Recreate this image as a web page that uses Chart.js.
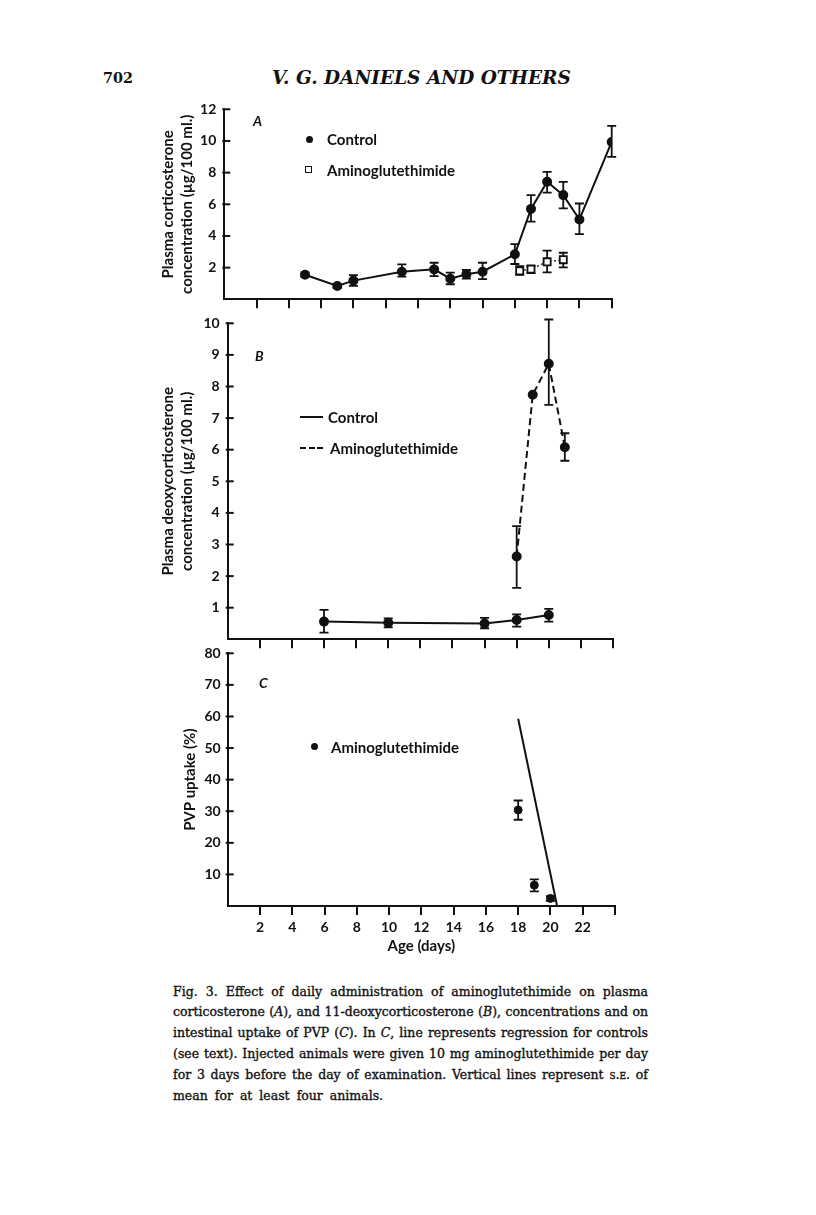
<!DOCTYPE html>
<html><head><meta charset="utf-8">
<script src="https://cdn.jsdelivr.net/npm/chart.js@4.4.0/dist/chart.umd.min.js"></script>
<style>
html,body{margin:0;padding:0;background:#fff;}
body{width:816px;height:1215px;position:relative;overflow:hidden;font-family:Lato,"Open Sans",sans-serif;color:#111;}
canvas{position:absolute;}
.t{position:absolute;white-space:nowrap;line-height:20px;height:20px;}
.lg{font-family:Lato,sans-serif;font-weight:bold;font-size:15px;}
.pl{font-family:Lato,sans-serif;font-weight:bold;font-style:italic;font-size:14px;}
.dot{position:absolute;width:7px;height:7px;border-radius:50%;background:#111;}
.sq{position:absolute;width:5px;height:5px;border:1.8px solid #111;background:#fff;}
.ln{position:absolute;height:0;border-top:2px solid #111;}
.ser{font-family:"DejaVu Serif",serif;}
.cap{position:absolute;left:173px;width:475px;font-family:"DejaVu Serif",serif;font-size:13px;white-space:nowrap;text-align:justify;text-align-last:justify;height:20.8px;line-height:20.8px;color:#111;-webkit-text-stroke:0.35px #111;}
.sc{font-variant:small-caps;}
</style></head><body>

<div id="hnum" class="t ser" style="left:103px;top:67px;font-weight:bold;font-size:19px;line-height:22px;height:22px;">702</div>
<div id="htitle" class="t ser" style="left:272px;top:67px;font-style:italic;font-weight:bold;font-size:19px;line-height:22px;height:22px;">V. G. DANIELS AND OTHERS</div>

<canvas id="cA" width="500" height="230" style="left:140px;top:89px;"></canvas>
<canvas id="cB" width="500" height="356" style="left:140px;top:303px;"></canvas>
<canvas id="cC" width="500" height="330" style="left:140px;top:633px;"></canvas>

<!-- panel A legend -->
<div class="t pl" style="left:253px;top:111px;">A</div>
<div class="dot" style="left:306px;top:136px;"></div>
<div class="t lg" style="left:327px;top:129px;">Control</div>
<div class="sq" style="left:305px;top:166px;"></div>
<div class="t lg" style="left:327px;top:160px;">Aminoglutethimide</div>

<!-- panel B legend -->
<div class="t pl" style="left:255px;top:346px;">B</div>
<div class="ln" style="left:300px;top:416px;width:23px;"></div>
<div class="t lg" style="left:328px;top:407px;">Control</div>
<div class="ln" style="left:300px;top:447px;width:6px;"></div>
<div class="ln" style="left:308.5px;top:447px;width:6px;"></div>
<div class="ln" style="left:317px;top:447px;width:6px;"></div>
<div class="t lg" style="left:330px;top:438px;">Aminoglutethimide</div>

<!-- panel C legend -->
<div class="t pl" style="left:259px;top:673px;">C</div>
<div class="dot" style="left:310.5px;top:743px;"></div>
<div class="t lg" style="left:331px;top:737px;">Aminoglutethimide</div>

<div id="caption">
<div class="cap" style="top:981.6px;">Fig. 3. Effect of daily administration of aminoglutethimide on plasma</div>
<div class="cap" style="top:1002.4px;">corticosterone (<i>A</i>), and 11-deoxycorticosterone (<i>B</i>), concentrations and on</div>
<div class="cap" style="top:1023.2px;">intestinal uptake of PVP (<i>C</i>). In <i>C</i>, line represents regression for controls</div>
<div class="cap" style="top:1044px;">(see text). Injected animals were given 10 mg aminoglutethimide per day</div>
<div class="cap" style="top:1064.8px;">for 3 days before the day of examination. Vertical lines represent <span class="sc">s.e.</span> of</div>
<div class="cap" id="capLast" style="top:1085.6px;text-align:left;text-align-last:left;">mean for at least four animals.</div>
</div>

<script>
// ---------- data ----------
const xTicks = [2,4,6,8,10,12,14,16,18,20,22,24];
const xTickLabels = ['2','4','6','8','10','12','14','16','18','20','22',''];

// Panel A: plasma corticosterone (µg/100 ml)
const yTicksA = [2,4,6,8,10,12];
const yTickLabelsA = ['2','4','6','8','10','12'];
const daysAControl = [5,7,8,11,13,14,15,16,18,19,20,21,22,24];
const corticoControl = [1.55,0.84,1.18,1.74,1.89,1.30,1.58,1.74,2.84,5.71,7.42,6.58,5.04,9.94];
const corticoControlLo = [1.42,0.72,0.85,1.43,1.47,0.95,1.30,1.28,2.23,4.90,6.74,5.74,4.12,8.99];
const corticoControlHi = [1.70,0.98,1.53,2.20,2.31,1.68,1.85,2.31,3.49,6.58,8.05,7.42,6.05,10.95];
const daysAAmino = [18.3,19,20,21];
const corticoAmino = [1.80,1.91,2.37,2.50];
const corticoAminoLo = [1.55,1.65,1.70,2.02];
const corticoAminoHi = [2.10,2.10,3.07,2.94];

// Panel B: plasma deoxycorticosterone (µg/100 ml)
const yTicksB = [1,2,3,4,5,6,7,8,9,10];
const yTickLabelsB = ['1','2','3','4','5','6','7','8','9','10'];
const daysBControl = [6,10,16,18,20];
const docControl = [0.56,0.52,0.50,0.61,0.77];
const docControlLo = [0.21,0.38,0.35,0.40,0.56];
const docControlHi = [0.93,0.66,0.68,0.79,0.96];
const daysBAmino = [18,19,20,21];
const docAmino = [2.62,7.74,8.72,6.08];
const docAminoLo = [1.63,null,7.42,5.65];
const docAminoHi = [3.58,null,10.12,6.52];

// Panel C: PVP uptake (%)
const yTicksC = [10,20,30,40,50,60,70,80];
const yTickLabelsC = ['10','20','30','40','50','60','70','80'];
const daysCAmino = [18,19,20];
const pvpAmino = [30.4,6.6,2.4];
const pvpAminoLo = [27.3,4.6,1.6];
const pvpAminoHi = [33.4,8.4,3.1];
const regDays = [18,20.4];
const regPvp = [59.3,0.3];

// ---------- helpers ----------
const ink = '#111';
const pts = (xs, ys) => xs.map((x,i)=>({x:x,y:ys[i]}));
const tickFont = {family:'Lato', weight:'bold', size:14};
const titleFont = {family:'Lato', weight:'bold', size:15, lineHeight:1.25};

const errPlugin = {
  id:'errbars',
  beforeDatasetsDraw(chart){
    const ctx = chart.ctx, xs = chart.scales.x, ys = chart.scales.y;
    chart.data.datasets.forEach(ds=>{
      if(!ds.errLo) return;
      ctx.save(); ctx.strokeStyle = ink; ctx.lineWidth = 1.8;
      ds.data.forEach((p,i)=>{
        const lo = ds.errLo[i], hi = ds.errHi[i];
        if(lo==null || hi==null) return;
        const x = xs.getPixelForValue(p.x), y1 = ys.getPixelForValue(lo), y2 = ys.getPixelForValue(hi);
        ctx.beginPath();
        ctx.moveTo(x,y1); ctx.lineTo(x,y2);
        ctx.moveTo(x-4.5,y1); ctx.lineTo(x+4.5,y1);
        ctx.moveTo(x-4.5,y2); ctx.lineTo(x+4.5,y2);
        ctx.stroke();
      });
      ctx.restore();
    });
  },
  afterDraw(chart){
    const ctx = chart.ctx, ys = chart.scales.y, left = chart.chartArea.left;
    ctx.save(); ctx.strokeStyle = ink; ctx.lineWidth = 2;
    ys.ticks.forEach(t=>{
      const y = ys.getPixelForValue(t.value);
      ctx.beginPath(); ctx.moveTo(left-2,y); ctx.lineTo(left+6,y); ctx.stroke();
    });
    ctx.restore();
  }
};

function buildChart(id, o){
  return new Chart(document.getElementById(id), {
    type:'line',
    data:{datasets:o.datasets},
    options:{
      responsive:false, animation:false, devicePixelRatio:1,
      layout:{padding:{left:0,right:o.padRight,top:o.padTop,bottom:0}},
      plugins:{legend:{display:false}, tooltip:{enabled:false}},
      scales:{
        x:{
          type:'linear', min:0, max:24,
          afterBuildTicks:s=>{s.ticks = xTicks.map(v=>({value:v}));},
          afterFit:s=>{s.height = o.xHeight;},
          ticks:{display:o.showX, autoSkip:false, maxRotation:0, padding:4, font:tickFont, color:ink,
                 callback:(v)=>{const i = xTicks.indexOf(v); return i>=0 ? xTickLabels[i] : '';}},
          grid:{display:true, drawOnChartArea:false, drawTicks:true, tickLength:9, lineWidth:2, color:ink},
          border:{display:true, width:2, color:ink},
          title: o.xTitle ? {display:true, text:o.xTitle, font:titleFont, color:ink, padding:{top:0,bottom:7}} : {display:false}
        },
        y:{
          type:'linear', min:o.yMin, max:o.yMax,
          afterBuildTicks:s=>{s.ticks = o.yTicks.map(v=>({value:v}));},
          afterFit:s=>{s.width = o.yWidth;},
          ticks:{padding:o.yPad, font:tickFont, color:ink,
                 callback:(v)=>{const i = o.yTicks.indexOf(v); return i>=0 ? o.yLabels[i] : '';}},
          grid:{display:true, drawOnChartArea:false, drawTicks:false},
          border:{display:true, width:2, color:ink},
          title:{display:true, text:o.yTitle, font:titleFont, color:ink, padding:{top:o.yTitlePad, bottom:0}}
        }
      }
    },
    plugins:[errPlugin]
  });
}

// Panel A
buildChart('cA', {
  yMin:0, yMax:12, yTicks:yTicksA, yLabels:yTickLabelsA, yWidth:84.3, yPad:8,
  padTop:20.3, padRight:28.3, xHeight:19.7, showX:false,
  yTitle:['Plasma corticosterone','concentration (\u00b5g/100 ml.)'], yTitlePad:18.6,
  datasets:[
    {data:pts(daysAControl,corticoControl), errLo:corticoControlLo, errHi:corticoControlHi,
     borderColor:ink, borderWidth:2, pointRadius:4, pointBackgroundColor:ink, pointBorderColor:ink, tension:0},
    {data:pts(daysAAmino,corticoAmino), errLo:corticoAminoLo, errHi:corticoAminoHi,
     borderColor:ink, borderWidth:1.3, borderDash:[2,2.5], pointStyle:'rect', pointRadius:5,
     pointBackgroundColor:'#fff', pointBorderColor:ink, pointBorderWidth:1.8, tension:0}
  ]
});

// Panel B
buildChart('cB', {
  yMin:0, yMax:10, yTicks:yTicksB, yLabels:yTickLabelsB, yWidth:87.7, yPad:8,
  padTop:20.3, padRight:27, xHeight:19.7, showX:false,
  yTitle:['Plasma deoxycorticosterone','concentration (\u00b5g/100 ml.)'], yTitlePad:18.6,
  datasets:[
    {data:pts(daysBControl,docControl), errLo:docControlLo, errHi:docControlHi,
     borderColor:ink, borderWidth:2, pointRadius:4, pointBackgroundColor:ink, pointBorderColor:ink, tension:0},
    {data:pts(daysBAmino,docAmino), errLo:docAminoLo, errHi:docAminoHi,
     borderColor:ink, borderWidth:2, borderDash:[7,4], pointRadius:4, pointBackgroundColor:ink, pointBorderColor:ink, tension:0}
  ]
});

// Panel C
buildChart('cC', {
  yMin:0, yMax:80, yTicks:yTicksC, yLabels:yTickLabelsC, yWidth:87.7, yPad:7,
  padTop:20.3, padRight:25, xHeight:57, showX:true, xTitle:'Age (days)',
  yTitle:'PVP uptake (%)', yTitlePad:40.6,
  datasets:[
    {data:pts(daysCAmino,pvpAmino), errLo:pvpAminoLo, errHi:pvpAminoHi, showLine:false,
     pointRadius:4, pointBackgroundColor:ink, pointBorderColor:ink},
    {data:pts(regDays,regPvp), borderColor:ink, borderWidth:2, pointRadius:0, tension:0}
  ]
});

// ---------- text fitting ----------
function naturalWidth(el){
  const s = el.style;
  const saved = [s.display, s.width, s.textAlign, s.textAlignLast];
  s.display='inline-block'; s.width='auto'; s.textAlign='left'; s.textAlignLast='left';
  const w = el.getBoundingClientRect().width;
  [s.display, s.width, s.textAlign, s.textAlignLast] = saved;
  return w;
}
function fitWidth(el, target){
  const w = naturalWidth(el);
  const fs = parseFloat(getComputedStyle(el).fontSize);
  el.style.fontSize = (fs*target/w)+'px';
}
fitWidth(document.getElementById('hnum'), 30);
fitWidth(document.getElementById('htitle'), 299);

const caps = [...document.querySelectorAll('.cap')];
const base = 20;
caps.forEach(c=>{c.style.fontSize = base+'px';});
let fs = Infinity;
caps.slice(0,5).forEach(c=>{ fs = Math.min(fs, base*472/naturalWidth(c)); });
const lastEl = caps[5];
const fsLast = base*207/naturalWidth(lastEl);
fs = Math.min(fs, fsLast);
caps.forEach(c=>{c.style.fontSize = fs+'px';});
const wl = naturalWidth(lastEl);
if (wl < 207) lastEl.style.wordSpacing = ((207 - wl)/4)+'px';
</script>
</body></html>
